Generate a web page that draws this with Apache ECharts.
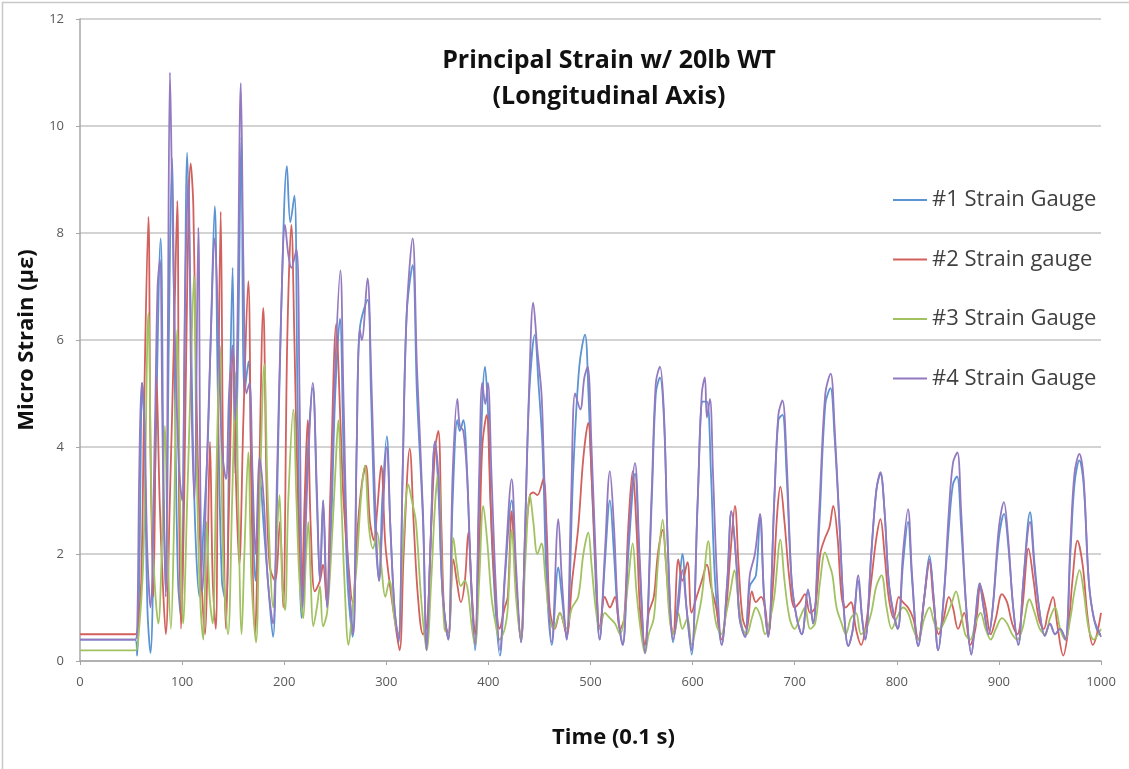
<!DOCTYPE html>
<html>
<head>
<meta charset="utf-8">
<title>Principal Strain</title>
<script src="https://cdn.jsdelivr.net/npm/echarts@6/dist/echarts.min.js"></script>
<style>
  html, body { margin: 0; padding: 0; background: #fff; }
  #chart { width: 1129px; height: 769px; }
</style>
</head>
<body>
<div id="chart"></div>
<script>
// readings [time (0.1 s), micro strain] taken off the plot at peaks and troughs
const gauge1 = [[0,0.4],[54,0.4],[56,0.1],[58,1.5],[61,5.2],[63,4.4],[66,1.0],[69,0.15],[73,3.0],[79,7.9],[82,3.0],[84,1.3],[87,6],[90,9.4],[93,5.0],[96,1.5],[99,0.8],[102,5],[105,9.5],[108,7],[112,3],[117,1.2],[121,2.5],[125,4.0],[128,6],[132,8.5],[135,5],[139,1.5],[143,1.1],[146,4],[149.5,7.35],[152,3.5],[155,6],[158,9.8],[161,5],[165,5.6],[168,3.5],[172,1.5],[176,3.5],[180,2.5],[184,1.5],[189,0.45],[193,3],[197,6.5],[202.7,9.25],[206,8.2],[210,8.7],[213,5],[217,0.8],[222,3.5],[228,5.1],[232,3],[235,1.5],[238,3.0],[242,1.0],[246,2.5],[250,5],[254.6,6.4],[258,4],[262,1.5],[267,0.45],[271,4],[274,6.2],[281.6,6.75],[285,5],[289,2.5],[293,1.5],[296,3],[300.5,4.2],[304,2.5],[308,1.0],[312,0.35],[316,3.5],[320,6.5],[325.8,7.4],[330,5],[336,2.6],[339.5,0.2],[343,2],[347.7,4.1],[351,3.2],[355,1.3],[360.7,0.4],[365,3],[369.6,4.5],[372,4.3],[375.4,4.5],[379,3.6],[383,1.5],[386.9,0.2],[391,3],[396.7,5.5],[400,4.5],[404,2],[411.3,0.1],[416,1.5],[422.8,3.0],[427,1.5],[431.9,0.35],[436,2.5],[440,5],[445.5,6.1],[449,5.2],[453,4.0],[457,1.5],[462,0.3],[468.5,1.75],[472,1.2],[476.6,0.4],[483,3.5],[489,5.5],[494.6,6.1],[498,5.0],[502,3],[509,0.4],[514,1.8],[519,3.0],[523,2.0],[527,0.8],[531.5,0.3],[537,2],[543.6,3.5],[548,1.8],[553.4,0.15],[560,3],[564,5],[568,5.3],[572,4.5],[576,2],[581,0.35],[586,1.2],[590,2.0],[594,1.0],[599,0.12],[605,3],[610,4.85],[614,4.85],[618,3.5],[622,1.5],[628.5,0.3],[634,1.5],[638,2.8],[643,1.8],[646,0.8],[651.4,0.45],[656,1.4],[662,1.6],[666,2.7],[670,1.2],[674,0.45],[680,3],[684,4.5],[688,4.6],[692,3.5],[697,1.5],[702,0.8],[707,0.5],[713,1.3],[718,0.7],[724,2.5],[730,4.8],[735,5.1],[739,4.2],[744,2.5],[748,1.0],[752.5,0.28],[757,0.6],[762,1.5],[766,0.8],[769,0.4],[775,2],[780,3.2],[784,3.5],[788,2.8],[792,1.5],[796.6,0.9],[801,0.6],[806,1.8],[811,2.6],[815,1.5],[821,0.28],[827,1.2],[832,1.97],[836,1.2],[840.5,0.2],[846,1.2],[851,2.5],[855,3.3],[859,3.45],[863,2.5],[868,1.0],[873,0.12],[877,0.8],[881,1.45],[885,1.0],[890,0.5],[894,1.0],[900,2.3],[905,2.75],[909,2.2],[914,1.0],[919,0.3],[924,1.5],[930.5,2.78],[935,1.8],[940,0.9],[945,0.47],[950,0.7],[955,0.5],[960,0.6],[965,0.4],[970,2.0],[974,3.3],[978.8,3.75],[983,3.3],[988,1.5],[993,0.8],[999,0.5],[1000,0.5]];

const gauge2 = [[0,0.5],[54,0.5],[57,0.7],[60,1.5],[63,5],[67,8.3],[69,4],[72,1.2],[75,5.3],[78,3],[81,1.5],[84,0.5],[88,3],[92,6],[95.3,8.6],[97,3],[99,0.6],[102,3],[105,7],[108.4,9.3],[111,8.5],[114,5],[118,2],[122.5,0.5],[125,2],[127.3,4.1],[130,1.5],[133,0.6],[135,4],[137.8,8.4],[140,4],[143,0.6],[146,3],[150,5.8],[153,3.2],[156,1.8],[160,4.5],[164.8,7.1],[168,3],[171.4,0.5],[175,3],[179.5,6.6],[183,3],[186,1.75],[191,1.5],[195.8,2.6],[199,1.0],[203,6],[207,8.15],[210,6],[214,2.5],[217,1.3],[220,3],[223,4.5],[226,2.5],[230,1.3],[235,1.5],[238,1.8],[241.6,1.1],[245,3],[251,6.3],[255,4.5],[258,3.05],[262,2.0],[267,1.1],[272,2.5],[276,3.3],[280,3.65],[284,2.6],[288,2.25],[291,2.8],[295,3.65],[299,2.2],[303,1.5],[308,0.8],[313,0.2],[317,2],[323,3.97],[327,2.5],[331,1.2],[336,0.5],[340,0.7],[344,2.5],[348,4.0],[351,4.3],[354,2.5],[357,0.8],[360.7,0.5],[365.7,1.9],[369,1.5],[373,1.1],[377,1.5],[380.3,2.4],[384,1.2],[387,0.5],[391,2],[394,4.0],[398.3,4.6],[402,3.0],[406,1.5],[411,0.6],[416,1.0],[419,1.2],[422.8,2.8],[426,1.8],[431.9,0.4],[436,2.2],[440.7,3.1],[444,3.15],[448,3.1],[453.8,3.4],[457,2.5],[460,1.0],[465,0.6],[470,0.9],[476.6,0.5],[482,1.5],[488,2.5],[493,3.8],[497.8,4.45],[501,3.5],[505,1.8],[509,0.6],[514,1.2],[519,1.0],[524,1.2],[529,0.6],[533,0.8],[537,2.5],[541.3,3.55],[545,2.5],[549,0.8],[553.4,0.3],[557,0.9],[562,1.2],[566,2.0],[570.7,2.45],[574,1.8],[578,0.8],[581,0.5],[586,1.9],[590,1.5],[595,1.85],[599,0.9],[604,1.2],[609,1.5],[614,1.8],[618,1.4],[623,1.0],[628.5,0.4],[633,1.0],[637,2.0],[641.5,2.9],[645,1.8],[649,0.8],[653,0.6],[658,1.3],[662,1.1],[667,1.2],[671,1.0],[674,0.5],[679,1.5],[683,2.8],[686,3.26],[690,2.6],[695,1.5],[700,1.0],[705,1.1],[710,1.25],[715,0.9],[720,1.0],[725,2.0],[729.7,2.3],[734,2.5],[737.8,2.9],[742,2.3],[746,1.2],[750,1.0],[755,1.1],[760,0.6],[765,0.3],[770,0.7],[775,1.5],[780,2.3],[784,2.65],[788,2.0],[792,1.2],[797,0.8],[802,1.2],[806,1.1],[811,1.0],[816,0.8],[821,0.4],[827,1.2],[832,1.85],[836,1.1],[841,0.5],[846,0.8],[851,1.2],[855,1.0],[860,0.6],[866,0.9],[872,0.3],[877,0.6],[882,1.4],[887,1.0],[892,0.5],[897,0.8],[903,1.25],[908,1.1],[913,0.7],[918,0.5],[923,1.0],[929,2.1],[934,1.5],[939,0.8],[944,0.6],[948,0.9],[953,1.2],[957,0.7],[963,0.1],[968,0.6],[972,1.5],[977,2.25],[982,1.8],[987,0.8],[992,0.3],[996,0.5],[1000,0.9]];

const gauge3 = [[0,0.2],[54,0.2],[57,0.4],[62,1.9],[67,6.5],[70,3],[73,1.5],[76.7,0.7],[80,2],[83.2,4.4],[86,2],[89,0.6],[92,2.5],[95.3,6.2],[98,3],[101,0.7],[105,3],[108,5],[111.6,7.2],[114,4],[117,1.5],[120.8,0.4],[124,2.6],[127,1.2],[130,0.7],[133,3],[137,5.9],[140,2],[145,0.5],[149,3],[152.6,5.4],[155,3],[158.3,0.5],[161,2],[164.8,3.9],[168,1.5],[172.4,0.35],[176,3],[180.5,5.55],[184,3],[189.3,1.0],[192,2],[195.4,3.1],[198,1.5],[200.8,0.95],[204,3],[208.9,4.7],[212,3],[215,1.5],[218.7,0.8],[221,1.8],[223.6,2.6],[226,1.5],[228.5,0.65],[232,1.0],[235,1.4],[238,0.65],[242,0.9],[246,2.0],[250,3.5],[253,4.5],[256,3],[259,1.5],[263,0.3],[267,1.0],[271,1.8],[275,3.0],[279,3.65],[283,2.5],[287,2.1],[291,2.4],[295,1.8],[299,1.2],[303,1.5],[308,0.8],[311.8,0.5],[316,2],[321.6,3.3],[325,3.0],[329,2.6],[334,1.2],[339.5,0.2],[344,1.5],[348,3.0],[351,3.5],[354,2],[357,0.6],[361,0.5],[365.7,2.3],[369,1.8],[373,1.4],[377,1.5],[380,1.3],[384,0.6],[387,0.3],[391,1.5],[395,2.9],[399,2.2],[403,1.2],[407,0.7],[411,0.4],[416,0.6],[419,1.0],[423,2.45],[427,1.2],[432,0.4],[436,1.8],[440.7,3.1],[444,2.6],[448,2.0],[452,2.2],[456,1.5],[460,0.8],[464,0.6],[470,0.9],[476,0.6],[482,1.0],[488,1.2],[493,2.0],[497.8,2.4],[501,1.8],[505,1.0],[509,0.6],[514,0.9],[519,0.8],[524,0.7],[529,0.5],[533,0.8],[537,1.5],[541.3,2.2],[545,1.3],[549,0.6],[553.4,0.15],[557,0.5],[562,0.8],[566,1.8],[570.7,2.64],[574,1.8],[578,0.7],[582,0.5],[586,0.9],[590,0.6],[595,0.8],[599,0.3],[604,0.7],[609,1.2],[615.4,2.24],[619,1.3],[623,0.7],[628,0.5],[633,0.9],[637,1.3],[641,1.7],[645,1.1],[649,0.6],[653,0.5],[658,0.8],[662,1.0],[667,0.8],[671,0.5],[675,0.7],[680,1.2],[686,2.27],[690,1.5],[695,0.8],[700,0.6],[705,0.8],[710,1.0],[715,0.6],[720,0.7],[725,1.5],[729.7,2.03],[734,1.8],[737,1.6],[741,1.0],[746,0.7],[750,0.5],[755,0.8],[760,0.9],[765,0.5],[770,0.6],[775,0.9],[780,1.4],[785,1.6],[790,1.0],[795,0.6],[800,0.8],[806,1.0],[811,0.9],[816,0.6],[821,0.4],[827,0.8],[832,1.0],[837,0.7],[842,0.6],[848,0.8],[854,1.1],[858,1.3],[862,1.0],[867,0.5],[872,0.4],[877,0.7],[882,0.9],[887,0.6],[892,0.4],[897,0.6],[903,0.8],[908,0.7],[913,0.5],[918,0.4],[923,0.6],[930,1.15],[935,0.9],[940,0.6],[945,0.5],[950,0.8],[955,1.0],[960,0.6],[965,0.4],[970,0.8],[974,1.3],[979,1.7],[983,1.3],[988,0.6],[993,0.4],[997,0.5],[1000,0.6]];

const gauge4 = [[0,0.4],[54,0.4],[56,0.6],[58,3.5],[60.4,5.2],[63,4.5],[66,2.0],[69,1.0],[73.4,4.4],[76,7.0],[78.3,7.5],[81,4.0],[84,1.2],[86,6],[88.1,11.0],[90,9.0],[93,6],[97,3.6],[100,3.0],[103,7],[106,9.0],[109,5],[112,3],[115.9,8.1],[118,3],[120,1.3],[124,3.5],[128,6],[132,7.9],[135,6.5],[139,4],[143,3.4],[146,5],[149.5,5.9],[152,4.5],[154,6],[157.5,10.8],[160,7.5],[163,5],[166,5.2],[169,3.5],[172,2],[176,3.8],[180,3.0],[184,1.5],[189,0.7],[193,3.5],[197,6.5],[200.8,8.15],[204,7.6],[207,7.35],[212,7.7],[215,5],[218,1.0],[223,3.5],[228,5.2],[232,3.2],[235,1.5],[238.3,3.0],[242,1.0],[246,3.0],[250,5.5],[255,7.3],[258,5],[262,2],[267.7,0.5],[271,4],[274,6.2],[276,6.0],[281.6,7.15],[285,5.5],[289,3],[293,1.5],[296,2.5],[300.5,4.0],[304,2.5],[308,1.0],[312,0.4],[316,3.5],[320,6.5],[325.8,7.9],[330,5.5],[336,2.75],[339.5,0.2],[343,2],[347.7,4.1],[351,3.5],[355,1.3],[360.7,0.4],[365,3.5],[369.6,4.9],[372,4.4],[375.4,4.3],[379,3.5],[383,1.5],[386.9,0.3],[391,3.5],[394,5.2],[397,4.8],[399.5,5.2],[403,3.5],[407,1.5],[411.3,0.2],[416,1.6],[422.8,3.4],[427,1.8],[431.9,0.35],[436,2.5],[440,5.2],[443.9,6.7],[448,5.8],[452,5.0],[454,3.9],[458,1.5],[462,0.35],[468.5,2.65],[472,1.5],[476.6,0.4],[481,3],[485,5.0],[490,4.7],[494,5.3],[497.2,5.5],[501,4.0],[505,2],[509,0.4],[514,2],[519,3.55],[523,2.5],[527,0.9],[531.5,0.3],[537,2.2],[543.6,3.7],[548,2.0],[553.4,0.15],[560,3.2],[564,5.2],[568,5.5],[572,4.6],[576,2],[581,0.4],[586,1.0],[590,1.7],[594,1.0],[599,0.2],[605,3],[609,5.0],[612,5.3],[614,4.55],[617,4.9],[620,3.5],[624,1.5],[628.5,0.3],[634,1.5],[638,2.8],[643,1.8],[646,0.8],[651.4,0.45],[656,1.6],[661,2.0],[666,2.75],[670,1.2],[674,0.45],[680,3],[684,4.6],[688,4.87],[692,3.8],[697,1.5],[702,0.8],[707,0.5],[713,1.34],[718,0.7],[724,2.8],[730,5.0],[735.2,5.37],[739,4.4],[744,2.5],[748,1.0],[752.5,0.28],[757,0.6],[762.3,1.6],[766,0.8],[769,0.4],[775,2],[780,3.2],[784,3.53],[788,2.8],[792,1.5],[796.6,0.9],[801,0.6],[806,2.0],[811,2.84],[815,1.6],[821,0.28],[827,1.2],[832,1.9],[836,1.2],[840.5,0.2],[846,1.2],[851,2.8],[855,3.7],[859.3,3.9],[863,2.8],[868,1.0],[873,0.12],[877,0.8],[881.5,1.45],[885,1.0],[890,0.5],[894,1.0],[900,2.5],[904.9,2.97],[909,2.3],[914,1.0],[919,0.3],[924,1.5],[930.5,2.6],[935,1.7],[940,0.9],[945,0.47],[950,0.7],[955,0.5],[960,0.6],[965,0.4],[970,2.2],[974,3.5],[978.8,3.87],[983,3.4],[988,1.5],[993,0.8],[999,0.5],[1000,0.45]];

const seriesNames = ['#1 Strain Gauge', '#2 Strain gauge', '#3 Strain Gauge', '#4 Strain Gauge'];
const seriesData = [gauge1, gauge2, gauge3, gauge4];
const colors = ['#5b93d3', '#d2605c', '#a2c262', '#9279c0'];

const font = "'Open Sans', 'Liberation Sans', sans-serif";

const chart = echarts.init(document.getElementById('chart'), null, { renderer: 'canvas' });

chart.setOption({
  animation: false,
  backgroundColor: '#fff',
  color: colors,
  title: {
    text: 'Principal Strain w/ 20lb WT\n(Longitudinal Axis)',
    left: 604, top: 38, textAlign: 'center',
    textStyle: { fontFamily: font, fontSize: 25, fontWeight: 'bold', color: '#111', lineHeight: 36 }
  },
  legend: {
    orient: 'vertical',
    left: 888, top: 184,
    itemWidth: 34, itemHeight: 2, itemGap: 37.5,
    icon: 'rect',
    textStyle: { fontFamily: font, fontSize: 22, color: '#404040' },
    data: seriesNames
  },
  grid: { left: 80, right: 28, top: 19, bottom: 108 },
  xAxis: {
    type: 'value', min: 0, max: 1000, interval: 100,
    name: 'Time (0.1 s)', nameLocation: 'middle', nameGap: 66,
    nameTextStyle: { fontFamily: font, fontSize: 22, fontWeight: 'bold', color: '#111', padding: [0, 0, 0, 46] },
    axisLine: { lineStyle: { color: '#a6a6a6', width: 1.5 } },
    axisTick: { show: true, length: 4, lineStyle: { color: '#a6a6a6' } },
    axisLabel: { fontFamily: font, fontSize: 13, color: '#595959', margin: 15, formatter: v => String(v) },
    splitLine: { show: false }
  },
  yAxis: {
    type: 'value', min: 0, max: 12, interval: 2,
    name: 'Micro Strain (με)', nameLocation: 'middle', nameGap: 38,
    nameTextStyle: { fontFamily: font, fontSize: 22, fontWeight: 'bold', color: '#111' },
    axisLine: { show: true, lineStyle: { color: '#a6a6a6', width: 1.5 } },
    axisTick: { show: true, length: 4, lineStyle: { color: '#a6a6a6' } },
    axisLabel: { fontFamily: font, fontSize: 13, color: '#595959', margin: 16 },
    splitLine: { lineStyle: { color: '#c4c4c4', width: 1.5 } }
  },
  graphic: [{
    type: 'rect', silent: true,
    shape: { x: 2.5, y: 2.5, width: 1150, height: 800 },
    style: { fill: 'none', stroke: '#c8c8c8', lineWidth: 1.5 }
  }],
  series: seriesData.map((d, i) => ({
    name: seriesNames[i],
    type: 'line',
    data: d,
    smooth: 0.35,
    showSymbol: false,
    lineStyle: { width: 1.8, color: colors[i] },
    itemStyle: { color: colors[i] },
    z: 2 + i
  }))
});
</script>
</body>
</html>
